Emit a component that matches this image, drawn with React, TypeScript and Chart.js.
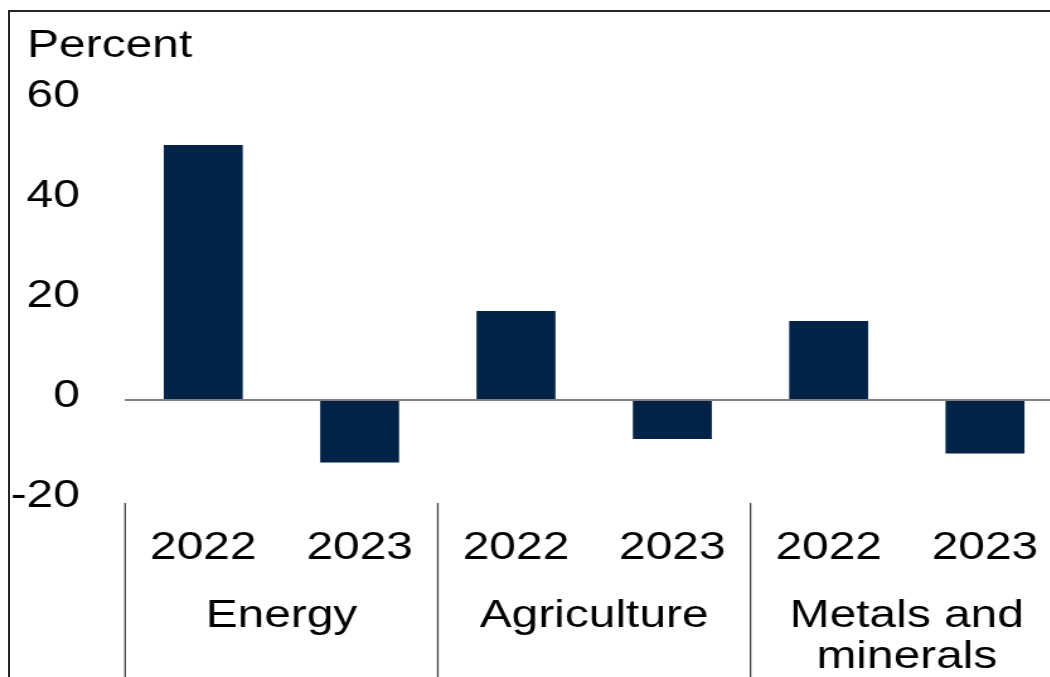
import React, { useEffect, useRef } from 'react';
import { Chart, registerables } from 'chart.js';

Chart.register(...registerables);

// ---- data ----
const years = ['2022', '2023', '2022', '2023', '2022', '2023'];
const groups: (string | string[])[] = ['Energy', 'Agriculture', ['Metals and', 'minerals']];
const values = [51, -12.5, 17.8, -7.8, 15.8, -10.7];
const yMin = -20;
const yMax = 60;
const yStep = 20;
const unitLabel = 'Percent';

// ---- layout constants ----
const SX = 1.26; // horizontal stretch of the reference
const W = 850;
const H = 677;
const FONT = "'Liberation Sans', Arial, sans-serif";
const FS = 38;

const decor = {
  id: 'decor',
  afterDraw(chart: any) {
    const { ctx, chartArea } = chart;
    const x = chart.scales.x;
    ctx.save();
    ctx.strokeStyle = '#404040';
    ctx.lineWidth = 1.3;
    for (let i = 0; i <= groups.length; i++) {
      const px = x.getPixelForValue(i * 2 - 0.5);
      ctx.beginPath();
      ctx.moveTo(px, chartArea.bottom + 3);
      ctx.lineTo(px, H);
      ctx.stroke();
    }
    ctx.fillStyle = '#000';
    ctx.font = `${FS}px ${FONT}`;
    ctx.textAlign = 'left';
    ctx.textBaseline = 'alphabetic';
    ctx.fillText(unitLabel, 21.5, 57);
    ctx.restore();
  },
};

export default function App() {
  const ref = useRef<HTMLCanvasElement | null>(null);

  useEffect(() => {
    if (!ref.current) return;
    const chart = new Chart(ref.current, {
      type: 'bar',
      data: {
        labels: years,
        datasets: [
          {
            data: values,
            backgroundColor: '#002347',
            borderWidth: 0,
            categoryPercentage: 1,
            barPercentage: 0.505,
          },
        ],
      },
      options: {
        animation: false,
        responsive: false,
        maintainAspectRatio: false,
        layout: { padding: { top: 100, left: 0, right: 0, bottom: 0 } },
        plugins: {
          legend: { display: false },
          tooltip: { enabled: false },
          title: { display: false },
        },
        scales: {
          y: {
            min: yMin,
            max: yMax,
            ticks: {
              stepSize: yStep,
              color: '#000',
              font: { family: FONT, size: FS },
              padding: 36,
              labelOffset: -3,
            },
            grid: {
              drawTicks: false,
              lineWidth: 2,
              color: (c: any) => (c.tick && c.tick.value === 0 ? '#808080' : 'rgba(0,0,0,0)'),
            },
            border: { display: false },
            afterFit: (s: any) => {
              s.width = 99.3;
            },
          },
          x: {
            type: 'category',
            position: 'bottom',
            weight: 0,
            grid: { display: false, drawTicks: false },
            border: { display: false },
            ticks: {
              color: '#000',
              font: { family: FONT, size: FS },
              padding: 26,
              autoSkip: false,
              maxRotation: 0,
            },
            afterFit: (s: any) => {
              s.height = 80;
            },
          },
          x2: {
            type: 'category',
            axis: 'x',
            position: 'bottom',
            weight: 1,
            labels: groups as any,
            offset: true,
            grid: { display: false, drawTicks: false },
            border: { display: false },
            ticks: {
              color: '#000',
              font: { family: FONT, size: FS, lineHeight: 1.08 },
              padding: 16,
              autoSkip: false,
              maxRotation: 0,
            },
            afterFit: (s: any) => {
              s.height = 97;
            },
          },
        },
      } as any,
      plugins: [decor],
    });
    return () => chart.destroy();
  }, []);

  return (
    <div
      style={{
        position: 'fixed',
        left: 0,
        top: 0,
        width: 1050,
        height: 677,
        overflow: 'hidden',
        background: '#fff',
      }}
    >
      <div
        style={{
          position: 'absolute',
          left: 0,
          top: 0,
          width: W,
          height: H,
          transform: `scaleX(${SX})`,
          transformOrigin: '0 0',
        }}
      >
        <canvas ref={ref} width={W} height={H} style={{ display: 'block' }} />
      </div>
      <div
        style={{
          position: 'absolute',
          left: 8,
          top: 10,
          width: 2000,
          height: 2000,
          borderLeft: '2px solid #262626',
          borderTop: '2px solid #262626',
          pointerEvents: 'none',
        }}
      />
    </div>
  );
}
